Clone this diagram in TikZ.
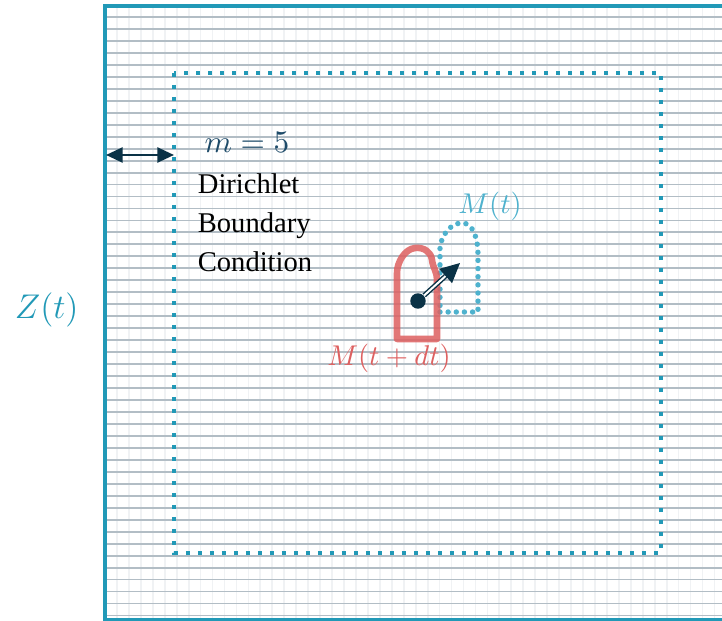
\documentclass[tikz,border=0pt]{standalone}
\usepackage{fontspec}
\setmainfont{Liberation Serif}
\usetikzlibrary{arrows.meta}
\definecolor{teal1}{RGB}{33,153,183}
\definecolor{lblue}{RGB}{78,178,206}
\definecolor{redb}{RGB}{222,96,96}
\definecolor{navy}{RGB}{10,50,70}
\definecolor{slate}{RGB}{30,75,105}
\definecolor{hgrid}{RGB}{178,189,197}
\definecolor{vgrid}{RGB}{240,242,244}
\tikzset{
  hline/.style={hgrid, line width=0.65pt},
  vline/.style={vgrid, line width=0.6pt},
  frame/.style={teal1, line width=1.45pt},
  margin/.style={teal1, line width=1.35pt, dash pattern=on 1.4pt off 2.8pt},
  boatnew/.style={redb, opacity=0.85, line width=2.3pt, line join=round, line cap=round},
  boatold/.style={lblue, line width=1.9pt, line cap=round, dash pattern=on 0pt off 2.85pt},
  lbl/.style={inner sep=0pt, anchor=base},
  dirtext/.style={inner sep=0pt, anchor=base west, font=\fontsize{10}{12}\selectfont},
  marginarrow/.style={navy, line width=0.9pt},
  navyarrow/.style={navy, line width=0.5pt, double=white, double distance=0.7pt}
}
\begin{document}
\begin{tikzpicture}[x=0.35pt,y=-0.35pt]
\useasboundingbox (0,0) rectangle (722,621);
\clip (0,0) rectangle (722,621);
\fill[white] (0,0) rectangle (722,621);
% grid
\foreach \k in {1,...,52}{
  \draw[vline] ({105+11.95*\k},6) -- ({105+11.95*\k},620);
}
\foreach \k in {1,...,51}{
  \draw[hline] (105,{5+11.97*\k}) -- (730,{5+11.97*\k});
}
% outer frame
\draw[frame] (105,5.8) rectangle (727,620.3);
% inner dotted rectangle
\draw[margin] (174,73) rectangle (661,553);
% margin arrow
\coordinate (mL) at (106,155);
\coordinate (mR) at (174,155);
\draw[marginarrow, {Triangle[length=5.8pt,width=5.2pt]}-{Triangle[length=5.8pt,width=5.2pt]}] (mL) -- (mR);
% labels
\node[lbl, text=teal1, font=\fontsize{12.8}{15}\selectfont] (Z) at (46.7,318.3) {$Z(t)$};
\node[lbl, text=slate, font=\fontsize{10.6}{13}\selectfont] (m) at (247,152.7) {$m=5$};
\node[dirtext] (d1) at (197.3,194) {Dirichlet};
\node[dirtext] (d2) at (197.3,232.8) {Boundary};
\node[dirtext] (d3) at (197.3,271.6) {Condition};
\node[lbl, text=lblue, font=\fontsize{9.8}{12}\selectfont] (Mt) at (490,213.3) {$M(t)$};
\node[lbl, text=redb, font=\fontsize{9.9}{12}\selectfont] (Mdt) at (389,366) {$M(t+dt)$};
% old boat (dotted)
\draw[boatold] (440,312) -- (478,312) -- (478,255)
  .. controls (478,238) and (473,223) .. (462,223)
  .. controls (450,223) and (441,236) .. (440,248) -- cycle;
% new boat
\draw[boatnew] (437,339) -- (397,339) -- (397,273)
  .. controls (397,262) and (405,249) .. (415,248)
  .. controls (424,247) and (431,252) .. (432,260)
  .. controls (433,268) and (437,272) .. (437,279) -- cycle;
% position and motion arrow
\node[circle, fill=navy, minimum size=5.4pt, inner sep=0pt] (dot) at (418,301) {};
\coordinate (tip) at (460,263);
\draw[navyarrow, -{Triangle[length=6.8pt,width=6.6pt]}] (dot) -- (tip);
\end{tikzpicture}
\end{document}
